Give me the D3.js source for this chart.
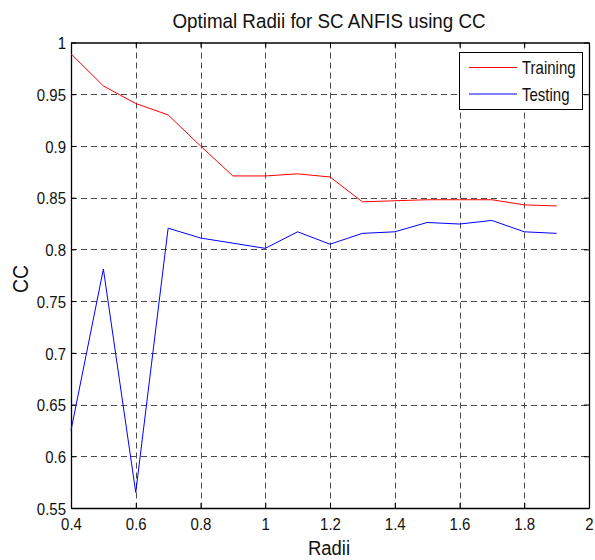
<!DOCTYPE html>
<html>
<head>
<meta charset="utf-8">
<script src="https://cdn.jsdelivr.net/npm/d3@7"></script>
<style>
  html, body { margin: 0; padding: 0; background: #fff; }
  svg { display: block; font-family: "Liberation Sans", Arial, sans-serif; }
</style>
</head>
<body>
<svg id="chart" width="595" height="560"></svg>
<script>
// Cluster radius values used for subtractive clustering
const radii = [0.4, 0.5, 0.6, 0.7, 0.8, 0.9, 1.0, 1.1, 1.2, 1.3, 1.4, 1.5, 1.6, 1.7, 1.8, 1.9];
// Correlation coefficient on the training set
const trainingCC = [0.989, 0.958, 0.941, 0.930, 0.900, 0.871, 0.871, 0.873, 0.870, 0.846, 0.847, 0.848, 0.848, 0.848, 0.843, 0.842];
// Correlation coefficient on the testing set
const testingCC = [0.625, 0.781, 0.565, 0.8205, 0.811, 0.806, 0.801, 0.817, 0.805, 0.8155, 0.817, 0.826, 0.8245, 0.828, 0.817, 0.8155];
const xTicks = [0.4, 0.6, 0.8, 1, 1.2, 1.4, 1.6, 1.8, 2];
const yTicks = [0.55, 0.6, 0.65, 0.7, 0.75, 0.8, 0.85, 0.9, 0.95, 1];
const seriesNames = ["Training", "Testing"];
const seriesColors = ["#ff0000", "#0000ff"];

const svg = d3.select("#chart");
const pLeft = 71, pRight = 589, pTop = 42.5, pBottom = 508;

const x = d3.scaleLinear().domain([0.4, 2]).range([pLeft, pRight]);
const y = d3.scaleLinear().domain([0.55, 1]).range([pBottom, pTop]);

const fmt = d => String(+d.toFixed(2));

// Dashed grid
const grid = svg.append("g").attr("stroke", "#4a4a4a").attr("stroke-width", 1)
  .attr("stroke-dasharray", "6,4").attr("fill", "none");
grid.selectAll("line.v").data(xTicks.slice(1, -1)).join("line")
  .attr("x1", d => Math.round(x(d)) + 0.5).attr("x2", d => Math.round(x(d)) + 0.5)
  .attr("y1", pTop).attr("y2", pBottom);
grid.selectAll("line.h").data(yTicks.slice(1, -1)).join("line")
  .attr("y1", d => Math.round(y(d)) + 0.5).attr("y2", d => Math.round(y(d)) + 0.5)
  .attr("x1", pLeft).attr("x2", pRight);

// Axes (ticks pointing inward), on all four sides
const xAxis = d3.axisBottom(x).tickValues(xTicks).tickSizeInner(-5).tickSizeOuter(0).tickFormat(fmt);
const yAxis = d3.axisLeft(y).tickValues(yTicks).tickSizeInner(-5).tickSizeOuter(0).tickFormat(fmt);

const gx = svg.append("g").attr("transform", `translate(0,${pBottom})`).call(xAxis);
const gy = svg.append("g").attr("transform", `translate(${pLeft},0)`).call(yAxis);
const gxTop = svg.append("g").attr("transform", `translate(0,${pTop})`)
  .call(d3.axisTop(x).tickValues(xTicks).tickSizeInner(-5).tickSizeOuter(0).tickFormat(""));
const gyRight = svg.append("g").attr("transform", `translate(${pRight},0)`)
  .call(d3.axisRight(y).tickValues(yTicks).tickSizeInner(-5).tickSizeOuter(0).tickFormat(""));

[gx, gy, gxTop, gyRight].forEach(g => {
  g.select(".domain").attr("stroke", "#000").attr("stroke-width", 1.3);
  g.selectAll(".tick line").attr("stroke", "#000");
  g.selectAll(".tick text").attr("fill", "#111").attr("font-size", 15)
    .attr("font-family", "'Liberation Sans', Arial, sans-serif");
});
// Slightly tall tick lettering
gx.selectAll(".tick text").attr("y", 0).attr("dy", 0)
  .attr("transform", "translate(0,22) scale(1,1.15)");
gy.selectAll(".tick text").attr("x", 0).attr("dy", 0)
  .attr("transform", "translate(-5,6.2) scale(1,1.15)");

// Data lines
const line = d3.line().x((d, i) => x(radii[i])).y(d => y(d));
[trainingCC, testingCC].forEach((vals, k) => {
  svg.append("path").datum(vals).attr("d", line)
    .attr("fill", "none").attr("stroke", seriesColors[k]).attr("stroke-width", 1);
});

// Title and axis labels
svg.append("text").attr("transform", "translate(329,28) scale(1,1.08)").attr("text-anchor", "middle")
  .attr("font-size", 18.8).attr("fill", "#111").text("Optimal Radii for SC ANFIS using CC");
svg.append("text").attr("transform", "translate(329,555) scale(1,1.08)").attr("text-anchor", "middle")
  .attr("font-size", 18.5).attr("fill", "#111").text("Radii");
svg.append("text").attr("transform", "translate(27.5,279) rotate(-90) scale(1,1.1)")
  .attr("text-anchor", "middle").attr("font-size", 19.5).attr("fill", "#111").text("CC");

// Legend
const lg = svg.append("g");
lg.append("rect").attr("x", 459.5).attr("y", 52.5).attr("width", 123).attr("height", 57)
  .attr("fill", "#fff").attr("stroke", "#000").attr("stroke-width", 1);
seriesNames.forEach((name, k) => {
  const ly = 67.5 + k * 26.5;
  lg.append("line").attr("x1", 469).attr("x2", 517).attr("y1", ly).attr("y2", ly)
    .attr("stroke", seriesColors[k]).attr("stroke-width", 1);
  lg.append("text").attr("transform", `translate(522,${ly + 6.5}) scale(1,1.2)`)
    .attr("font-size", 15).attr("fill", "#111").text(name);
});
</script>
</body>
</html>
